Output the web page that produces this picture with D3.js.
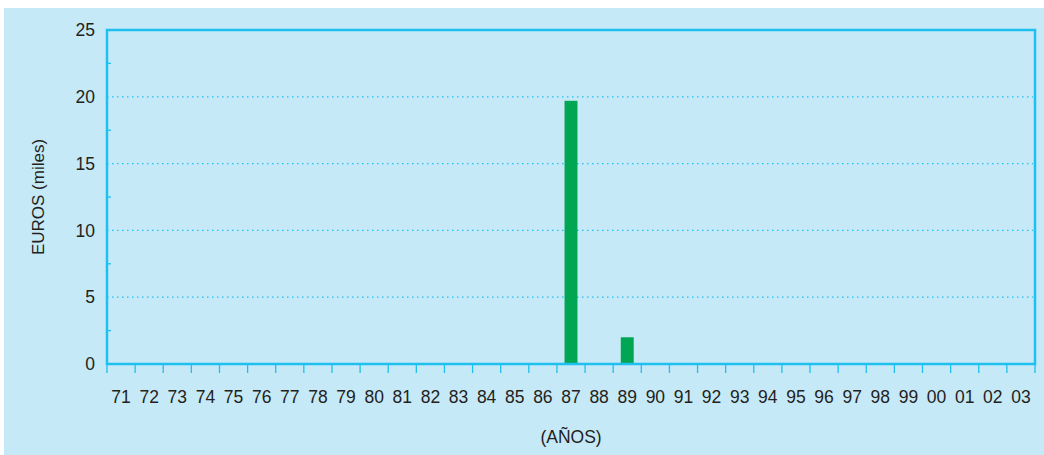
<!DOCTYPE html>
<html>
<head>
<meta charset="utf-8">
<script src="https://cdn.jsdelivr.net/npm/d3@7"></script>
<style>
  html, body { margin: 0; padding: 0; background: #fff; }
  svg { display: block; }
  text { font-family: "Liberation Sans", Arial, sans-serif; fill: #231f20; }
</style>
</head>
<body>
<div id="chart"></div>
<script>
const years = ["71","72","73","74","75","76","77","78","79","80","81","82","83","84","85","86",
  "87","88","89","90","91","92","93","94","95","96","97","98","99","00","01","02","03"];
const values = [0,0,0,0,0,0,0,0,0,0,0,0,0,0,0,0,
  19.7,0,2.0,0,0,0,0,0,0,0,0,0,0,0,0,0,0];
const yTicks = [0, 5, 10, 15, 20, 25];
const yMinorTicks = [2.5, 7.5, 12.5, 17.5, 22.5];

const width = 1044, height = 455;
const margin = { top: 30, right: 8, bottom: 91, left: 107 };
const frameColor = "#1dc0ef";
const labelSize = "17.5px";

const svg = d3.select("#chart").append("svg")
  .attr("width", width).attr("height", height);

svg.append("rect")
  .attr("x", 4).attr("y", 8)
  .attr("width", width - 4).attr("height", height - 8)
  .attr("fill", "#c6e9f8");

const x = d3.scaleBand()
  .domain(years)
  .range([margin.left, width - margin.right - 1])
  .paddingInner(0.54).paddingOuter(0.27);
const xTickScale = d3.scaleBand().domain(years).range(x.range());

const y = d3.scaleLinear().domain([0, 25]).range([364, margin.top]);

// dotted gridlines
svg.append("g")
  .selectAll("line")
  .data(yTicks.filter(d => d > 0 && d < 25))
  .join("line")
  .attr("x1", margin.left).attr("x2", x.range()[1] - 2)
  .attr("y1", d => y(d)).attr("y2", d => y(d))
  .attr("stroke", frameColor)
  .attr("stroke-width", 1.3)
  .attr("stroke-dasharray", "1.5,3.5");

// bars
svg.append("g")
  .selectAll("rect")
  .data(values.map((v, i) => ({ year: years[i], v })))
  .join("rect")
  .attr("x", d => x(d.year))
  .attr("y", d => y(d.v))
  .attr("width", x.bandwidth())
  .attr("height", d => y(0) - y(d.v))
  .attr("fill", "#00a651");

// frame
svg.append("rect")
  .attr("x", margin.left).attr("y", y(25))
  .attr("width", x.range()[1] - margin.left)
  .attr("height", y(0) - y(25))
  .attr("fill", "none")
  .attr("stroke", frameColor)
  .attr("stroke-width", 2.5);

// x axis ticks
const xBounds = years.map(d => xTickScale(d)).concat([xTickScale.range()[1]]);
svg.append("g")
  .selectAll("line")
  .data(xBounds)
  .join("line")
  .attr("x1", d => d).attr("x2", d => d)
  .attr("y1", y(0)).attr("y2", y(0) + 9)
  .attr("stroke", frameColor)
  .attr("stroke-width", 1.3);

svg.append("g")
  .selectAll("text")
  .data(years)
  .join("text")
  .attr("x", d => xTickScale(d) + xTickScale.bandwidth() / 2)
  .attr("y", 403)
  .attr("text-anchor", "middle")
  .style("font-size", labelSize)
  .text(d => d);

// y axis labels and minor ticks
const yAxis = d3.axisLeft(y).tickValues(yTicks).tickSize(0).tickPadding(12);
const gy = svg.append("g")
  .attr("transform", `translate(${margin.left},0)`)
  .call(yAxis);
gy.select(".domain").remove();
gy.selectAll("text")
  .style("font-size", labelSize)
  .style("font-family", "'Liberation Sans', Arial, sans-serif")
  .attr("fill", "#231f20");

svg.append("g")
  .selectAll("line")
  .data(yMinorTicks)
  .join("line")
  .attr("x1", margin.left).attr("x2", margin.left + 4)
  .attr("y1", d => y(d)).attr("y2", d => y(d))
  .attr("stroke", frameColor)
  .attr("stroke-width", 1.3);

// axis titles
svg.append("text")
  .attr("transform", `translate(44, ${(y(0) + y(25)) / 2}) rotate(-90)`)
  .attr("text-anchor", "middle")
  .style("font-size", "17px")
  .text("EUROS (miles)");

svg.append("text")
  .attr("x", (x.range()[0] + x.range()[1]) / 2)
  .attr("y", 443)
  .attr("text-anchor", "middle")
  .style("font-size", labelSize)
  .text("(AÑOS)");
</script>
</body>
</html>
